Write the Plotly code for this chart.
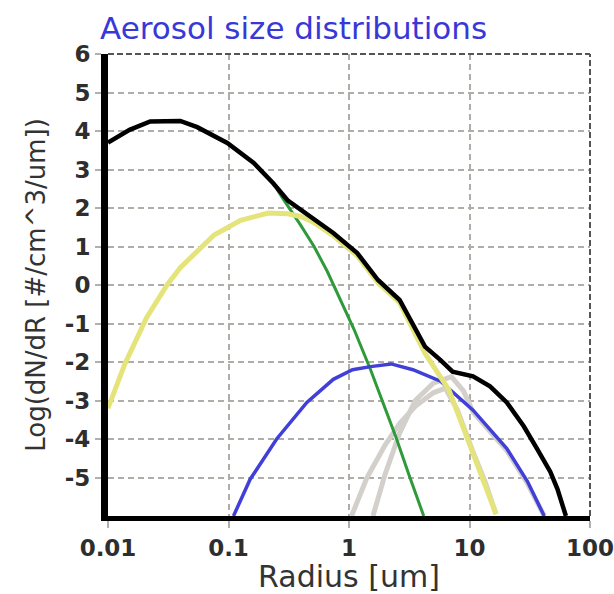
import plotly.graph_objects as go

# ---- data (radius in um, log10(dN/dR)) ----
black_r = [0.01, 0.0151, 0.0224, 0.0398, 0.055, 0.0741, 0.0977, 0.162, 0.234, 0.309,
           0.513, 0.741, 1.17, 1.74, 2.63, 3.72, 4.27, 5.75, 7.24, 10.7, 14.8, 20.4,
           28.2, 36.3, 46.8, 53.7, 63.1]
black_y = [3.7, 4.03, 4.25, 4.26, 4.1, 3.9, 3.69, 3.17, 2.65, 2.2,
           1.69, 1.35, 0.83, 0.13, -0.39, -1.3, -1.6, -1.95, -2.25, -2.37, -2.63, -3.05,
           -3.67, -4.25, -4.85, -5.3, -6.0]

yellow_r = [0.01, 0.0115, 0.0138, 0.0209, 0.0309, 0.0398, 0.0759, 0.126, 0.214, 0.309,
            0.398, 0.501, 0.741, 1.17, 1.74, 2.63, 3.72, 4.27, 6.76, 10.5, 13.5, 16.6]
yellow_y = [-3.2, -2.7, -2.05, -0.85, 0.0, 0.45, 1.3, 1.68, 1.87, 1.85,
            1.78, 1.64, 1.28, 0.76, 0.06, -0.46, -1.37, -1.77, -2.73, -4.29, -5.14, -5.95]

blue_r = [0.11, 0.151, 0.251, 0.447, 0.741, 1.07, 1.51, 2.24, 3.39, 5.75, 10.7, 20.4, 30.2, 41.7]
blue_y = [-6.0, -5.05, -4.0, -3.05, -2.45, -2.2, -2.12, -2.05, -2.2, -2.5, -3.25, -4.25, -5.1, -6.0]

green_r = [0.251, 0.282, 0.398, 0.513, 0.661, 1.1, 1.51, 2.45, 3.16, 4.17]
green_y = [2.5, 2.25, 1.55, 1.0, 0.35, -1.15, -2.2, -3.95, -4.95, -6.0]

gray1_r = [1.05, 1.41, 2.0, 2.63, 3.55, 5.01, 6.31, 7.94, 10.5, 13.5, 16.6]
gray1_y = [-6.0, -5.0, -4.15, -3.6, -3.15, -2.8, -2.68, -3.25, -4.27, -5.12, -5.95]

gray2_r = [1.58, 2.0, 2.63, 3.55, 5.01, 7.08, 8.91, 10.7, 20.4, 30.2, 41.7]
gray2_y = [-6.0, -4.9, -3.85, -3.0, -2.55, -2.38, -2.75, -3.3, -4.3, -5.15, -6.0]

x_tickvals = [0.01, 0.1, 1, 10, 100]
x_ticktext = ["0.01", "0.1", "1", "10", "100"]
y_tickvals = [-5, -4, -3, -2, -1, 0, 1, 2, 3, 4, 5, 6]
y_ticktext = ["-5", "-4", "-3", "-2", "-1", "0", "1", "2", "3", "4", "5", "6"]

FONT = "DejaVu Sans, Verdana, sans-serif"

fig = go.Figure()
fig.add_trace(go.Scatter(x=gray1_r, y=gray1_y, mode="lines",
                         line=dict(color="#d3d0cc", width=5), hoverinfo="skip"))
fig.add_trace(go.Scatter(x=gray2_r, y=gray2_y, mode="lines",
                         line=dict(color="#d3d0cc", width=5), hoverinfo="skip"))
fig.add_trace(go.Scatter(x=green_r, y=green_y, mode="lines",
                         line=dict(color="#2e9a3a", width=3)))
fig.add_trace(go.Scatter(x=blue_r, y=blue_y, mode="lines",
                         line=dict(color="#4040d8", width=3.5)))
fig.add_trace(go.Scatter(x=yellow_r, y=yellow_y, mode="lines",
                         line=dict(color="#e4e47a", width=5)))
fig.add_trace(go.Scatter(x=black_r, y=black_y, mode="lines",
                         line=dict(color="#000000", width=4.5)))

grid = dict(showgrid=True, gridcolor="#b0aca8", gridwidth=2, griddash="6px,4px")
tickfont = dict(family=FONT, size=23, color="#2e2e2e", weight="bold")

fig.update_layout(
    width=614, height=594,
    margin=dict(l=108, r=24, t=54, b=78),
    paper_bgcolor="white", plot_bgcolor="white",
    showlegend=False,
    title=dict(text="Aerosol size distributions", x=100/614, xanchor="left",
               y=1 - 28/594, yanchor="middle", xref="container", yref="container",
               font=dict(family=FONT, size=31, color="#3838d8")),
    xaxis=dict(type="log", range=[-2, 2], tickvals=x_tickvals, ticktext=x_ticktext,
               showline=True, linecolor="black", linewidth=5,
               ticks="outside", ticklen=7, tickcolor="#b0b0b0", tickwidth=2,
               tickfont=tickfont, automargin=False, ticklabeloverflow="allow",
               title=dict(text="Radius [um]", standoff=4,
                          font=dict(family=FONT, size=30, color="#333333")),
               zeroline=False, **grid),
    yaxis=dict(range=[-6, 6], tickvals=y_tickvals, ticktext=y_ticktext,
               showline=True, linecolor="black", linewidth=7,
               ticks="outside", ticklen=6, tickcolor="#b0b0b0", tickwidth=2,
               tickfont=tickfont, automargin=False, ticklabeloverflow="allow",
               title=dict(text="Log(dN/dR [#/cm^3/um])", standoff=14,
                          font=dict(family=FONT, size=26, color="#333333")),
               zeroline=False, **grid),
)

# dashed frame at top and right
fig.add_shape(type="line", xref="paper", yref="paper", x0=0, x1=1, y0=1, y1=1,
              line=dict(color="#555555", width=2, dash="6px,3px"))
fig.add_shape(type="line", xref="paper", yref="paper", x0=1, x1=1, y0=0, y1=1,
              line=dict(color="#555555", width=2, dash="6px,3px"))

fig.write_html("out.html")
